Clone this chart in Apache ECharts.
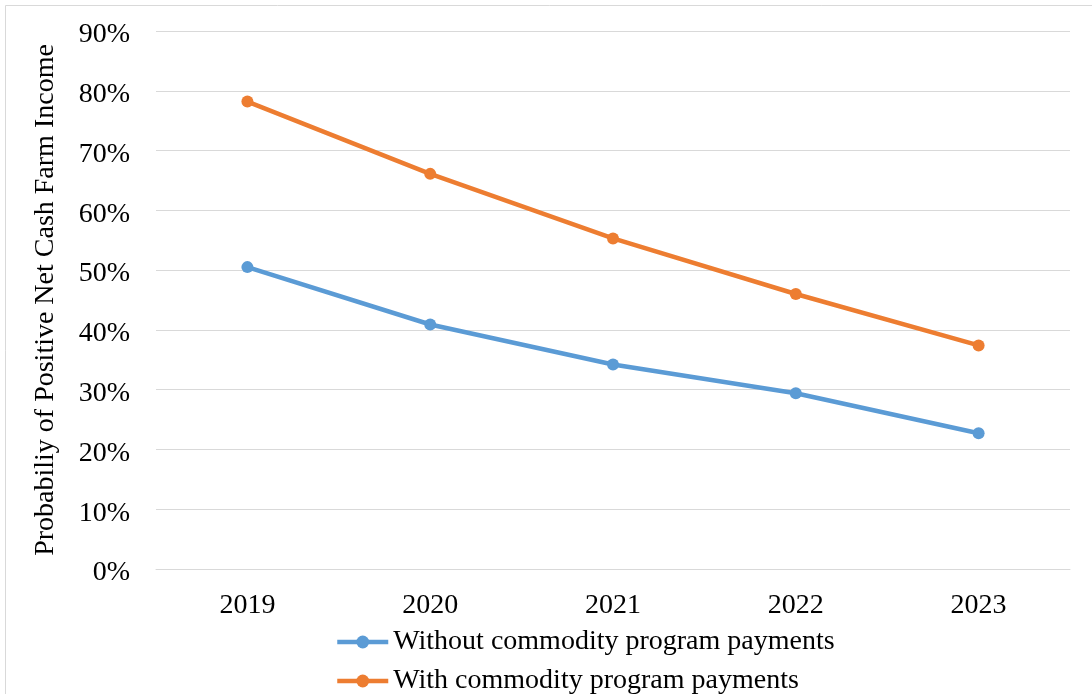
<!DOCTYPE html>
<html>
<head>
<meta charset="utf-8">
<script src="https://cdn.jsdelivr.net/npm/echarts@6/dist/echarts.min.js"></script>
<style>
html,body{margin:0;padding:0;background:#fff;}
#c{width:1092px;height:694px;}
</style>
</head>
<body>
<div id="c"></div>
<script>
var categories = ['2019', '2020', '2021', '2022', '2023'];
var withoutPayments = [50.5, 40.9, 34.2, 29.4, 22.7];
var withPayments = [78.2, 66.1, 55.3, 46.0, 37.4];
var seriesNames = ['Without commodity program payments', 'With commodity program payments'];
var yAxisTitle = 'Probabiliy of Positive Net Cash Farm Income';

var FONT = '"Liberation Serif", "Times New Roman", serif';
var chart = echarts.init(document.getElementById('c'), null, {renderer: 'canvas'});
function legendFor(name, top) {
  return {
    orient: 'horizontal',
    left: 335,
    top: top,
    padding: 0,
    itemWidth: 51,
    itemHeight: 16,
    textStyle: {fontFamily: FONT, fontSize: 28, color: '#000'},
    lineStyle: {width: 4.5},
    data: [name]
  };
}
chart.setOption({
  backgroundColor: '#fff',
  animation: false,
  color: ['#5B9BD5', '#ED7D31'],
  graphic: [{
    type: 'rect',
    shape: {x: 5.5, y: 5.5, width: 1200, height: 1000},
    style: {fill: 'none', stroke: '#D9D9D9', lineWidth: 1},
    silent: true
  }],
  grid: {left: 156, right: 22, top: 31, bottom: 125},
  legend: [legendFor(seriesNames[0], 628), legendFor(seriesNames[1], 667)],
  xAxis: {
    type: 'category',
    data: categories,
    boundaryGap: true,
    axisLine: {show: true, lineStyle: {color: '#D9D9D9', width: 1}},
    axisTick: {show: false},
    axisLabel: {fontFamily: FONT, fontSize: 28, color: '#000', margin: 23}
  },
  yAxis: {
    type: 'value',
    min: 0, max: 90, interval: 10,
    name: yAxisTitle,
    nameLocation: 'middle',
    nameGap: 96,
    nameTextStyle: {fontFamily: FONT, fontSize: 28, color: '#000'},
    axisLine: {show: false},
    axisTick: {show: false},
    axisLabel: {
      fontFamily: FONT, fontSize: 28, color: '#000', margin: 26,
      formatter: '{a|{value}%}',
      rich: {a: {fontFamily: FONT, fontSize: 28, color: '#000', padding: [8, 0, 0, 0]}}
    },
    splitLine: {lineStyle: {color: '#D9D9D9', width: 1}}
  },
  series: [
    {
      name: seriesNames[0], type: 'line', data: withoutPayments,
      symbol: 'circle', symbolSize: 12,
      lineStyle: {width: 4.5}
    },
    {
      name: seriesNames[1], type: 'line', data: withPayments,
      symbol: 'circle', symbolSize: 12,
      lineStyle: {width: 4.5}
    }
  ]
});
</script>
</body>
</html>
